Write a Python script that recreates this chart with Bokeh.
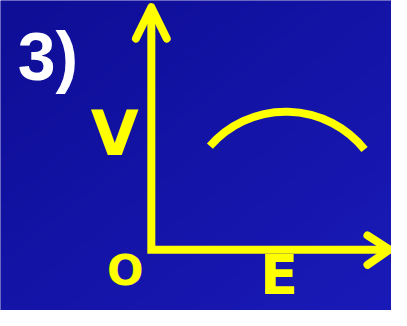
import numpy as np
from bokeh.plotting import figure
from bokeh.models import Range1d
from bokeh.core.properties import value
from bokeh.embed import file_html
from bokeh.resources import INLINE

# Scene units: reference picture pixels (x right, y up, 0..407 x 0..326)
W, H = 407, 326

# Axis lines (origin corner, ends of the axes)
axis_x = [157, 157, 405]
axis_y = [318, 64, 64]
# Arrow heads (open chevrons)
head_v_x = [141, 157, 173]
head_v_y = [286, 319, 286]
head_h_x = [382, 405, 382]
head_h_y = [79, 64, 48]

# The curve V(E): circular arc
arc_cx, arc_cy, arc_r = 297, 103, 105
arc_start_deg, arc_end_deg = 38.7, 138.8

# Labels
label_text = ["V", "O", "E"]
label_x = [119, 130, 290]
label_y = [186, 43, 38]
label_size = ["62px", "43px", "56px"]

title_text = ["3)"]
title_x = [18]
title_y = [268]

p = figure(width=391, height=310, output_backend="svg", toolbar_location=None,
           x_range=Range1d(0, W), y_range=Range1d(0, H), min_border=0)
p.axis.visible = False
p.grid.visible = False
p.outline_line_color = None
p.background_fill_color = "#1212a4"
p.border_fill_color = "#1212a4"

# background gradient (darker top-left, brighter bottom-right)
n = 64
gx, gy = np.meshgrid(np.linspace(0, 1, n), np.linspace(0, 1, n))
t = (gx + (1 - gy)) / 2.0  # 0 at top-left, 1 at bottom-right (y up in image)
c0 = np.array([14, 14, 150])
c1 = np.array([26, 26, 184])
img = np.empty((n, n), dtype=np.uint32)
view = img.view(dtype=np.uint8).reshape((n, n, 4))
for k in range(3):
    view[:, :, k] = (c0[k] + (c1[k] - c0[k]) * t).astype(np.uint8)
view[:, :, 3] = 255
p.image_rgba(image=[img], x=0, y=0, dw=W, dh=H)

yellow = "#ffff00"
p.line(axis_x, axis_y, line_color=yellow, line_width=8, line_join="miter", line_cap="butt")
p.line(head_v_x, head_v_y, line_color=yellow, line_width=8, line_join="round", line_cap="round")
p.line(head_h_x, head_h_y, line_color=yellow, line_width=8, line_join="round", line_cap="round")

p.arc(x=[arc_cx], y=[arc_cy], radius=arc_r, start_angle=arc_start_deg, end_angle=arc_end_deg,
      start_angle_units="deg", end_angle_units="deg",
      line_color=yellow, line_width=8, line_cap="butt")

for t_, x_, y_, s_ in zip(label_text, label_x, label_y, label_size):
    p.text(x=[x_], y=[y_], text=[t_], text_color=yellow, text_font=value("DejaVu Sans"),
           text_font_style="bold", text_font_size=s_, text_align="center",
           text_baseline="alphabetic")

p.text(x=title_x, y=title_y, text=title_text, text_color="white",
       text_font=value("Liberation Sans"), text_font_style="bold",
       text_font_size="68px", text_align="left", text_baseline="alphabetic")

open("out.html", "w").write(file_html(p, INLINE))
